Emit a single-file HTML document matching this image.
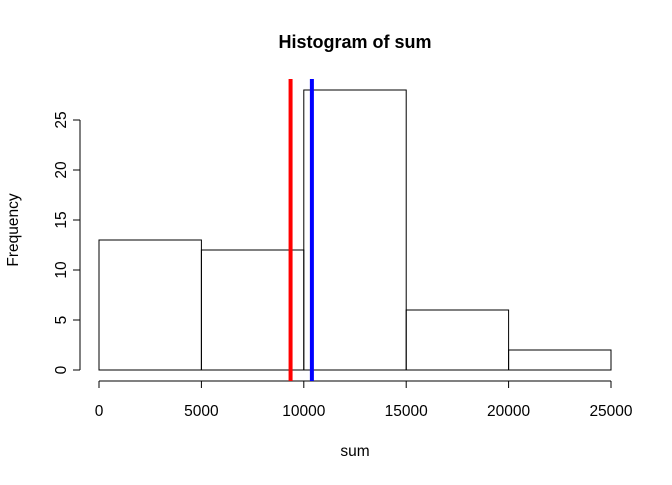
<!DOCTYPE html>
<html><head><meta charset="utf-8"><style>
body{margin:0;background:#fff}
svg text{font-family:"Liberation Sans",Arial,sans-serif;fill:#000}
</style></head><body>
<svg id="chart" width="672" height="480" xmlns="http://www.w3.org/2000/svg">
<text x="355" y="48" font-size="18" font-weight="bold" text-anchor="middle">Histogram of sum</text>
<text x="355" y="456" font-size="15.5" text-anchor="middle">sum</text>
<text transform="translate(18,230) rotate(-90)" font-size="15.5" text-anchor="middle">Frequency</text>
<g id="bars"></g><g id="xaxis"></g><g id="yaxis"></g><g id="lines"></g>
</svg>
<script>
const breaks=[0,5000,10000,15000,20000,25000];
const counts=[13,12,28,6,2];
const xTicks=[0,5000,10000,15000,20000,25000];
const yTicks=[0,5,10,15,20,25];
const meanVal=9354;
const medianVal=10395;
const NS="http://www.w3.org/2000/svg";
function x(v){return 99+v*512/25000;}
function y(v){return 370-v*10;}
function mk(tag,attrs,parent){const e=document.createElementNS(NS,tag);for(const k in attrs)e.setAttribute(k,attrs[k]);document.getElementById(parent).appendChild(e);return e;}
for(let i=0;i<counts.length;i++){
 const r=mk('rect',{x:x(breaks[i]),y:y(counts[i]),width:x(breaks[i+1])-x(breaks[i]),height:y(0)-y(counts[i]),fill:'none',stroke:'#000','stroke-width':1},'bars');
 
 
}
const xl=mk('line',{x1:x(0),x2:x(25000),y1:381,y2:381,stroke:'#000'},'xaxis');


xTicks.forEach(t=>{
 mk('line',{x1:x(t),x2:x(t),y1:381,y2:388,stroke:'#000'},'xaxis');
 const tx=mk('text',{x:x(t),y:416,'font-size':15.5,'text-anchor':'middle'},'xaxis');
 tx.textContent=t;
 
 
});
const yl=mk('line',{x1:80,x2:80,y1:y(25),y2:y(0),stroke:'#000'},'yaxis');


yTicks.forEach(t=>{
 mk('line',{x1:73,x2:80,y1:y(t),y2:y(t),stroke:'#000'},'yaxis');
 const tx=mk('text',{transform:'translate(66,'+y(t)+') rotate(-90)','font-size':15.5,'text-anchor':'middle'},'yaxis');
 tx.textContent=t;
 
 
});
const ml=mk('line',{x1:x(meanVal),x2:x(meanVal),y1:79,y2:381,stroke:'#ff0000','stroke-width':4},'lines');


const dl=mk('line',{x1:x(medianVal),x2:x(medianVal),y1:79,y2:381,stroke:'#0000ff','stroke-width':4},'lines');


</script>
</body></html>
